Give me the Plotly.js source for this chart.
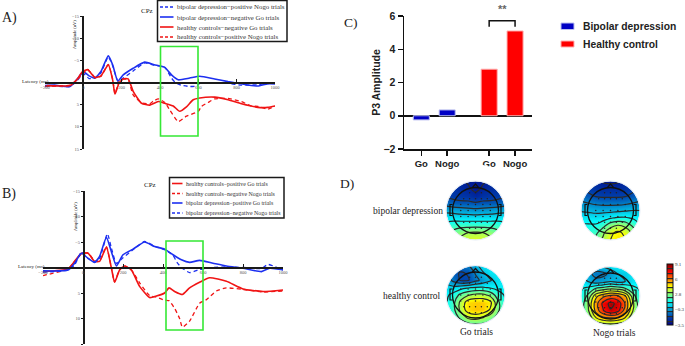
<!DOCTYPE html>
<html><head><meta charset="utf-8">
<script src="https://cdn.plot.ly/plotly-3.0.1.min.js"></script>
<style>html,body{margin:0;padding:0;background:#fff}</style></head>
<body><div id="chart" style="width:685px;height:346px"></div>
<script>
// ---------- Panel A data (ms, uV) ----------
const aBlueGoX=[-200,-150,-70,-35,0,30,60,92,130,153,180,208,260,320,370,425,460,495,555,607,685,755,825,910,960,1000];
const aBlueGoY=[0.7,0.6,0.9,-0.6,-2.4,-1.5,-1,-2.5,-6,-4,-0.3,-1.7,-3.2,-4.6,-4,-3.4,-1.7,-0.6,-1,-1.4,-0.8,-0.2,0.3,0.8,0.3,0.3];
const aBlueNogoX=[-200,-150,-70,-35,0,30,60,92,130,153,180,208,260,320,370,425,460,480,510,555,590,607,685,755,825,910,960,1000];
const aBlueNogoY=[0.9,0.8,0.9,-0.3,-2,-0.9,-1,-2.2,-5.8,-3.8,-0.4,-1,-2.6,-4.4,-3.9,-3.4,-1,0,0.6,0.9,0.8,0.2,0.1,0.2,0.6,0.5,0.1,0.2];
const aRedGoX=[-190,-70,-35,-3,23,60,92,130,153,165,186,208,234,260,304,347,391,425,469,503,538,573,607,685,755,825,911,963,1000];
const aRedGoY=[0.7,0.7,-0.6,-2.5,-2.9,-1.1,-1.5,-4,-0.6,2.6,0.2,-0.8,-0.8,2,4.7,5.1,4.3,4.7,5.3,6.5,5.5,3.9,3.5,3.3,3.9,4.8,5.6,5.6,5.3];
const aRedNogoX=[-200,-70,-35,-3,23,60,92,130,153,165,186,208,234,260,304,347,365,391,425,451,495,538,600,616,651,685,755,825,877,911,963,1000];
const aRedNogoY=[0.8,0.6,-0.5,-2,-2.9,-1.2,-1.4,-4.1,-0.7,2.5,-0.2,-0.8,-0.6,2.8,4.6,4.8,4.2,3.7,4.5,6.2,8.8,7.6,6.5,5.4,4.5,3.7,3.6,4.3,5.3,5.4,6,5.3];
// ---------- Panel B data (ms, uV) ----------
const bBlueGoX=[-200,-75,-42,-8,25,58,83,117,142,167,200,250,308,358,408,450,492,533,583,650,717,800,892,933,1000];
const bBlueGoY=[0.65,0.5,-0.85,-2.8,-1.8,-1,-2.2,-5.9,-3.1,-0.3,-2.5,-3.6,-5,-4.1,-3.6,-2.5,-1.5,-1,-1.4,-0.85,-0.3,0.15,0.8,0.15,0.45];
const bBlueNogoX=[-200,-75,-42,-8,25,58,83,122,142,167,200,250,308,358,408,450,470,492,533,583,650,717,800,892,925,1000];
const bBlueNogoY=[0.9,0.5,-0.5,-3,-1.8,-1.1,-1.8,-6.6,-3.8,-0.8,-1.9,-3.5,-5.1,-4.2,-3.5,-2.4,-1,0,1,0.4,0,-0.1,0,0.2,-0.6,0.5];
const bRedGoX=[-200,-75,-42,-8,25,58,83,117,142,158,183,208,242,283,333,367,408,430,458,497,533,583,633,717,800,900,1000];
const bRedGoY=[0.8,0.3,-1.2,-2.8,-2.8,-1.2,-1.2,-4,0.1,2.9,0.5,-0.3,0.5,3.7,5.9,5.6,5,4,4.7,5.3,4,2.9,2,2.7,4.2,4.7,4.4];
const bRedNogoX=[-200,-190,-75,-42,-8,25,58,83,117,142,158,183,208,242,283,333,367,408,430,458,483,497,533,583,617,667,717,800,900,1000];
const bRedNogoY=[1.6,1.5,0.3,-1.2,-2.6,-2.9,-1.3,-1.3,-4.1,0.1,2.8,0.4,-0.3,0.5,3,5.5,5.8,6.4,6.5,8,10,11.7,10.5,7,6.3,4.6,4,4.3,4.8,4.6];
const erpTickX=[-200,0,200,400,600,800,1000];
const erpTickY=[-15,-10,-5,5,10,15];
const legendA=["bipolar depression−positive Nogo trials","bipolar depression−negative Go trials","healthy controls−negative Go trials","healthy controls−positive Nogo trials"];
const legendB=["healthy controls−positive Go trials","healthy controls−negative Nogo trials","bipolar depression−positive Go trials","bipolar depression−negative Nogo trials"];
// ---------- Panel C data ----------
const p3Labels=["Go","Nogo","Go","Nogo"];
const p3Pos=[0,1,2.62,3.62];
const p3Values=[-0.25,0.35,2.8,5.1];
// ---------- Panel D data: scalp map grids, top row to bottom row ----------
const gridAxis=[-1,-0.75,-0.5,-0.25,0,0.25,0.5,0.75,1];
const mapBdGo=[[-2.2,-2.4,-2.6,-2.8,-2.8,-2.8,-2.6,-2.4,-2.2],[-2,-2.2,-2.4,-2.6,-2.9,-2.6,-2.4,-2.2,-2],[-1.8,-2,-2.1,-2.2,-2.5,-2.2,-2.1,-2,-1.8],[-1.2,-1.4,-1.5,-1.5,-1.6,-1.5,-1.5,-1.4,-1.2],[0,-0.1,-0.2,-0.3,-0.4,-0.3,-0.2,-0.1,0],[0.9,0.9,0.8,0.8,0.8,0.8,0.8,0.9,0.9],[1.6,1.8,1.9,1.9,1.9,1.9,1.9,1.8,1.6],[2.2,2.6,3,3.3,3.4,3.3,3,2.6,2.2],[2.6,3.2,3.6,3.9,4,3.9,3.6,3.2,2.6]];
const mapBdNogo=[[-2,-2.4,-2.6,-2.8,-2.9,-2.8,-2.6,-2.3,-2],[-1.8,-2,-2.2,-2.4,-2.4,-2.4,-2.2,-2,-1.8],[-1.2,-1.5,-1.8,-1.9,-1.9,-1.9,-1.8,-1.5,-1.2],[-0.5,-0.7,-0.9,-1,-1,-1,-0.9,-0.7,-0.5],[0.2,0.1,0,0,0,0.1,0.2,0.3,0.3],[0.9,0.9,0.8,0.9,1.2,1.4,1.4,1.2,1],[1.4,1.4,1.4,1.9,2.9,3.3,3,2.1,1.4],[1.7,1.8,2,3.1,4.1,4.5,4.1,3.1,1.8],[1.9,2.1,2.7,3.5,4.3,4.7,4.3,3.5,2.1]];
const mapHcGo=[[-0.8,-1,-1,-0.8,0,0.8,1,0.9,0.8],[-0.6,-1.4,-1.8,-1.6,-0.6,0.2,0.8,1,1],[0,-1,-1.8,-1.8,-1,-0.4,0.2,0.8,1],[0.6,0.6,0.9,1.2,1.4,1.4,1.2,1,1],[1.1,1.6,2.6,3.2,3.6,3.6,3,1.8,1.2],[1.2,2,3.6,4.8,5,5,4.6,2.6,1.3],[1.3,2,3.6,4.8,5.1,5,4.2,2.6,1.3],[1.2,1.7,2.6,3.6,3.8,3.4,2.8,2,1.2],[1.2,1.4,1.7,2,2.2,2.1,1.8,1.5,1.2]];
const mapHcNogo=[[0.6,0.3,0,0.4,0.8,1,1,0.9,0.8],[0.4,-0.4,-1,-1,-0.4,0.3,0.4,0.9,1],[1,0.2,-0.4,-0.2,0.2,-0.2,0.3,0.8,1],[1.2,1.6,2.4,2.8,3.2,3,2.4,1.6,1.2],[1.4,2.6,5,6,6.6,6.4,5.4,2.8,1.4],[1.6,3.4,5.8,7.6,8.6,8,6.2,3.6,1.6],[1.6,3.2,5.6,7.2,8.2,7.6,5.8,3.4,1.6],[1.4,2.4,4.2,5,5.2,5,4.2,2.4,1.4],[1.3,1.6,2.2,2.6,2.8,2.6,2.2,1.6,1.3]];
const electrodeX=[-0.2,0,0.2,-0.4,-0.2,0,0.2,0.4,-0.5,-0.25,0,0.25,0.5,-0.5,-0.25,0,0.25,0.5,-0.5,-0.25,0,0.25,0.5,-0.4,-0.2,0,0.2,0.4,-0.2,0,0.2];
const electrodeY=[-0.6,-0.6,-0.6,-0.4,-0.4,-0.4,-0.4,-0.4,-0.2,-0.2,-0.2,-0.2,-0.2,0,0,0,0,0,0.2,0.2,0.2,0.2,0.2,0.4,0.4,0.4,0.4,0.4,0.6,0.6,0.6];
const scaleVals=[9.1,6,2.8,-0.3,-3.5];
const scaleText=["9.1","6","2.8","−0.3","−3.5"];

// ---------- pixel helpers ----------
const W=685,H=346;
const fx=p=>p/W, fy=p=>1-p/H;
const SERIF="Liberation Serif, serif", SANS="Liberation Sans, Arial, sans-serif";
const BLUE="#1c2ff0", RED="#f01414";
const DARK="#1a1a1a";
const traces=[], shapes=[], annotations=[];
const layout={width:W,height:H,margin:{l:0,r:0,t:0,b:0},paper_bgcolor:"#fff",plot_bgcolor:"rgba(0,0,0,0)",showlegend:false,shapes,annotations};

function txt(text,x,y,size,o={}){annotations.push(Object.assign({text,x:fx(x),y:fy(y),xref:"paper",yref:"paper",showarrow:false,xanchor:"left",yanchor:"middle",borderpad:0,font:{family:SERIF,size,color:"#222"}},o));}
function pxLine(x0,y0,x1,y1,color,width,dash){shapes.push({type:"line",xref:"paper",yref:"paper",x0:fx(x0),x1:fx(x1),y0:fy(y0),y1:fy(y1),line:{color,width,dash:dash||"solid"}});}
function pxRect(x0,y0,x1,y1,line,fill,width){shapes.push({type:"rect",xref:"paper",yref:"paper",x0:fx(x0),x1:fx(x1),y0:fy(y0),y1:fy(y1),line:{color:line,width:width||0},fillcolor:fill||"rgba(0,0,0,0)"});}

// ---------- ERP panels ----------
function erpAxes(n,box){
  const xa={domain:[fx(box.l),fx(box.r)],range:[-200,1000],tickvals:erpTickX,ticks:"inside",ticklen:3,tickwidth:1,tickcolor:DARK,showgrid:false,zeroline:false,showline:true,linecolor:DARK,linewidth:2,tickfont:{family:SERIF,size:4.5,color:"#555"},anchor:"free",position:fy((box.t+box.b)/2),layer:"above traces"};
  const ya={domain:[fy(box.b),fy(box.t)],range:[15,-15],tickvals:erpTickY,ticks:"outside",ticklen:2,tickwidth:1,tickcolor:DARK,showgrid:false,zeroline:false,showline:true,linecolor:DARK,linewidth:2,tickfont:{family:SERIF,size:4.5,color:"#555"},anchor:"free",position:fx(box.y0),layer:"above traces"};
  layout["xaxis"+(n>1?n:"")]=xa; layout["yaxis"+(n>1?n:"")]=ya;
}
function erpLine(n,name,x,y,color,dashed){
  traces.push({type:"scatter",mode:"lines",name,x,y,xaxis:"x"+(n>1?n:""),yaxis:"y"+(n>1?n:""),line:{color,width:dashed?1.3:1.6,dash:dashed?"4px,3px":"solid",shape:"spline",smoothing:0.5},hoverinfo:"skip"});
}
erpAxes(1,{l:45,r:275,t:16,b:149,y0:83});
erpAxes(2,{l:43,r:283,t:191,b:344,y0:84});
erpLine(1,legendA[0],aBlueNogoX,aBlueNogoY,BLUE,true);
erpLine(1,legendA[1],aBlueGoX,aBlueGoY,BLUE,false);
erpLine(1,legendA[2],aRedGoX,aRedGoY,RED,false);
erpLine(1,legendA[3],aRedNogoX,aRedNogoY,RED,true);
erpLine(2,legendB[0],bRedGoX,bRedGoY,RED,false);
erpLine(2,legendB[1],bRedNogoX,bRedNogoY,RED,true);
erpLine(2,legendB[2],bBlueGoX,bBlueGoY,BLUE,false);
erpLine(2,legendB[3],bBlueNogoX,bBlueNogoY,BLUE,true);
// green windows
pxRect(160.5,46.5,198,136,"#35e835",null,1.6);
pxRect(166,241,203,330,"#35e835",null,1.6);
// legend boxes
function erpLegend(x0,y0,x1,y1,names,styles,rowY,textOff,size){
  pxRect(x0,y0,x1,y1,DARK,"#fff",1.5);
  names.forEach((t,i)=>{
    pxLine(x0+2.5,rowY[i],x0+textOff-2.5,rowY[i],styles[i][0],styles[i][1]?1.4:1.6,styles[i][1]?"3px,2px":"solid");
    txt(t,x0+textOff,rowY[i],size,{font:{family:SERIF,size,color:"#333"}});
  });
}
erpLegend(157.5,0.5,287,41.5,legendA,[[BLUE,1],[BLUE,0],[RED,0],[RED,1]],[7,17,27,37],18.5,6.8);
erpLegend(169.5,177.5,284,218,legendB,[[RED,0],[RED,1],[BLUE,0],[BLUE,1]],[183.5,193.5,203,213],15.5,5.9);
txt("CPz",140,11,7); txt("CPz",143,185,7);
txt("A)",1,18,14); txt("B)",1,194,14); txt("C)",343,22,13.5); txt("D)",339,184,13.5);
txt("Latency (ms)",20.5,82,5); txt("Latency (ms)",16.5,266.5,5);
txt("Amplitude (uV)",74,35,4.5,{textangle:-90,xanchor:"center"});
txt("Amplitude (uV)",75,217,4.5,{textangle:-90,xanchor:"center"});

// ---------- Panel C ----------
const cColors=["#0000c4","#0000c4","#ff0000","#ff0000"];
const unit=25.9, cx0=421.3;
const cl=(404-cx0)/unit, cr=(532-cx0)/unit;
traces.push({type:"bar",x:p3Pos,y:p3Values,width:0.62,xaxis:"x3",yaxis:"y3",marker:{color:cColors,line:{color:["#bcc0f0","#bcc0f0","#ffb0b0","#ffb0b0"],width:1}},hoverinfo:"skip"});
layout.xaxis3={domain:[fx(404),fx(532)],range:[cl,cr],tickvals:p3Pos,ticktext:p3Labels,ticks:"outside",ticklen:5,tickwidth:1.5,tickcolor:"#111",showline:true,linecolor:"#111",linewidth:1.5,showgrid:false,zeroline:false,anchor:"y3",tickfont:{family:SANS,size:9.5,color:"#222",weight:"bold"}};
layout.yaxis3={domain:[fy(149),fy(16)],range:[-2,6],tickvals:[-2,0,2,4,6],ticks:"outside",ticklen:5,tickwidth:1.5,tickcolor:"#111",showline:true,linecolor:"#111",linewidth:1.5,showgrid:false,zeroline:true,zerolinecolor:"#111",zerolinewidth:1.5,anchor:"x3",tickfont:{family:SANS,size:10.5,color:"#222",weight:"bold"},title:{text:"P3 Amplitude",standoff:0,font:{family:SANS,size:10.5,color:"#222",weight:"bold"}}};
shapes.push({type:"path",xref:"x3",yref:"y3",path:`M ${p3Pos[2]} 5.35 L ${p3Pos[2]} 5.72 L ${p3Pos[3]} 5.72 L ${p3Pos[3]} 5.35`,line:{color:"#111",width:1.5}});
txt("**",502,9,11,{xanchor:"center",font:{family:SANS,size:11,color:"#666",weight:"bold"}});
pxRect(561,23,574,29.5,"#bcc0f0","#0000c4",1);
pxRect(561,41,574,47,"#ffb0b0","#ff0000",1);
txt("Bipolar depression",582,26,10.3,{font:{family:SANS,size:10.3,color:"#222",weight:"bold"}});
txt("Healthy control",582,44,10.3,{font:{family:SANS,size:10.3,color:"#222",weight:"bold"}});

// ---------- Panel D ----------
const R=29.5, HEAD=23;
function scalp(n,z,cx,cy,showScale){
  const xn="x"+n, yn="y"+n;
  const tr={type:"contour",x:gridAxis,y:gridAxis,z,xaxis:xn,yaxis:yn,zmin:-3.5,zmax:9.1,colorscale:"Jet",zsmooth:"best",showscale:!!showScale,autocontour:false,contours:{coloring:"heatmap",start:-2.7,end:9,size:1},line:{color:"#2a2a2a",width:1.2,smoothing:1},hoverinfo:"skip"};
  if(showScale) tr.colorbar={x:fx(666.5),xanchor:"left",xpad:0,y:fy(294.5),yanchor:"middle",ypad:0,lenmode:"pixels",len:61,thicknessmode:"pixels",thickness:5.5,outlinewidth:1,outlinecolor:"#111",ticks:"",tickvals:scaleVals,ticktext:scaleText,ticklabelposition:"outside",tickfont:{family:SERIF,size:5,color:"#333"}};
  traces.push(tr);
  traces.push({type:"scatter",mode:"markers",x:electrodeX,y:electrodeY,xaxis:xn,yaxis:yn,marker:{size:1.5,color:"#222"},hoverinfo:"skip"});
  layout["xaxis"+n]={domain:[fx(cx-R),fx(cx+R)],range:[-1,1],visible:false,anchor:yn};
  layout["yaxis"+n]={domain:[fy(cy+R),fy(cy-R)],range:[1,-1],visible:false,anchor:xn};
  shapes.push({type:"circle",xref:"paper",yref:"paper",x0:fx(cx-R-8),x1:fx(cx+R+8),y0:fy(cy+R+8),y1:fy(cy-R-8),line:{color:"#fff",width:17}});
  shapes.push({type:"circle",xref:"paper",yref:"paper",x0:fx(cx-R),x1:fx(cx+R),y0:fy(cy+R),y1:fy(cy-R),line:{color:"#e4ecf6",width:1}});
  shapes.push({type:"circle",xref:"paper",yref:"paper",x0:fx(cx-HEAD),x1:fx(cx+HEAD),y0:fy(cy+HEAD),y1:fy(cy-HEAD),line:{color:"#111",width:1.3}});
  const nose=`M ${fx(cx-3.5)} ${fy(cy-HEAD+0.3)} L ${fx(cx)} ${fy(cy-HEAD-3.5)} L ${fx(cx+3.5)} ${fy(cy-HEAD+0.3)}`;
  shapes.push({type:"path",xref:"paper",yref:"paper",path:nose,line:{color:"#111",width:1.2}});
  [-1,1].forEach(s=>{
    const e=cx+s*HEAD, o=cx+s*(HEAD+2.5);
    const ear=`M ${fx(e)} ${fy(cy-6)} L ${fx(o)} ${fy(cy-6)} L ${fx(o)} ${fy(cy+5)} L ${fx(e)} ${fy(cy+5)}`;
    shapes.push({type:"path",xref:"paper",yref:"paper",path:ear,line:{color:"#111",width:1.2}});
  });
}
scalp(4,mapBdGo,475.5,210.5,false);
scalp(5,mapBdNogo,610.5,210.5,false);
scalp(6,mapHcGo,475.5,295,false);
scalp(7,mapHcNogo,610.5,296,true);
txt("bipolar depression",372,211,9.5);
txt("healthy control",382,296,9.5);
txt("Go trials",459,332,9.5);
txt("Nogo trials",592,333,9.5);

Plotly.newPlot("chart",traces,layout,{displayModeBar:false,staticPlot:true});
</script></body></html>
